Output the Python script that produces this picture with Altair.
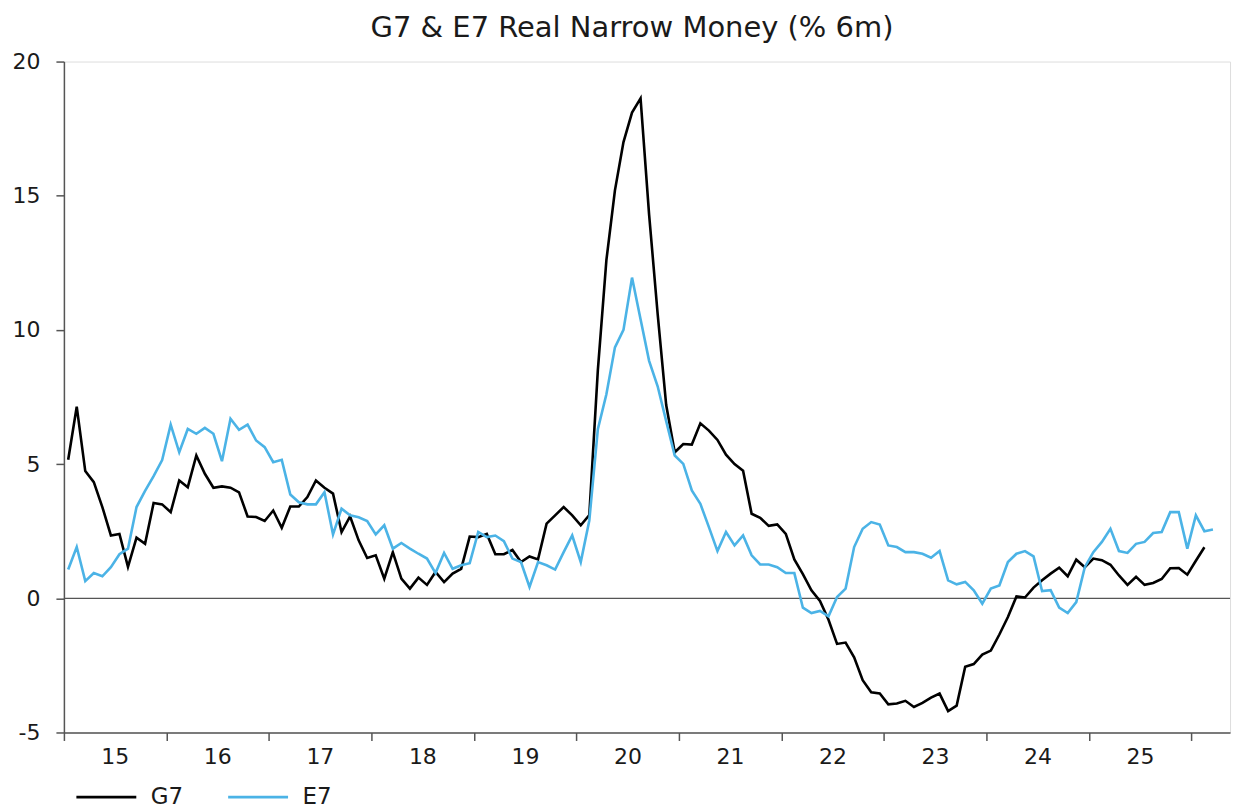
import altair as alt
import pandas as pd

START_YEAR = 2015
TITLE = "G7 & E7 Real Narrow Money (% 6m)"
series_names = ["G7", "E7"]
series_colors = ["#000000", "#4BB3E6"]
year_ticks = list(range(2015, 2027))
y_ticks = [-5, 0, 5, 10, 15, 20]

# monthly values, Jan 2015 onwards
g7 = [5.16, 7.14, 4.74, 4.33, 3.4, 2.34, 2.4, 1.17, 2.26, 2.03,
      3.55, 3.5, 3.21, 4.39, 4.14, 5.32, 4.64, 4.12, 4.17, 4.12,
      3.95, 3.05, 3.03, 2.88, 3.27, 2.63, 3.42, 3.42, 3.77, 4.39,
      4.12, 3.9, 2.47, 3.05, 2.16, 1.5, 1.6, 0.73, 1.72, 0.73,
      0.36, 0.77, 0.5, 0.98, 0.6, 0.92, 1.1, 2.3, 2.28, 2.4,
      1.64, 1.64, 1.8, 1.35, 1.56, 1.45, 2.78, 3.09, 3.4, 3.09,
      2.72, 3.1, 8.5, 12.6, 15.2, 17.0, 18.1, 18.63, 14.3, 10.6,
      7.2, 5.44, 5.75, 5.73, 6.52, 6.25, 5.9, 5.35, 5.0, 4.75,
      3.15, 3.0, 2.7, 2.75, 2.4, 1.45, 0.9, 0.3, -0.1, -0.8,
      -1.7, -1.65, -2.2, -3.05, -3.5, -3.55, -3.95, -3.92, -3.82, -4.05,
      -3.9, -3.7, -3.55, -4.2, -4.0, -2.55, -2.45, -2.1, -1.95, -1.35,
      -0.7, 0.07, 0.03, 0.4, 0.67, 0.92, 1.14, 0.82, 1.44, 1.16,
      1.48, 1.42, 1.25, 0.85, 0.5, 0.8, 0.5, 0.57, 0.72, 1.12,
      1.13, 0.88, 1.4, 1.9]

e7 = [1.07, 1.91, 0.64, 0.94, 0.82, 1.16, 1.64, 1.85, 3.4, 4.0,
      4.55, 5.15, 6.47, 5.44, 6.31, 6.13, 6.35, 6.13, 5.11, 6.69,
      6.28, 6.47, 5.88, 5.63, 5.07, 5.16, 3.87, 3.58, 3.5, 3.5,
      3.95, 2.38, 3.34, 3.09, 3.02, 2.88, 2.38, 2.72, 1.85, 2.06,
      1.85, 1.66, 1.48, 0.94, 1.69, 1.1, 1.23, 1.31, 2.47, 2.28,
      2.34, 2.13, 1.48, 1.35, 0.42, 1.35, 1.23, 1.07, 1.72, 2.34,
      1.35, 2.9, 6.3, 7.6, 9.35, 10.0, 11.95, 10.4, 8.85, 7.9,
      6.6, 5.32, 5.01, 4.02, 3.52, 2.65, 1.76, 2.47, 1.97, 2.34,
      1.6, 1.26, 1.26, 1.16, 0.94, 0.94, -0.35, -0.55, -0.47, -0.67,
      0.05, 0.36, 1.91, 2.59, 2.84, 2.75, 1.97, 1.91, 1.72, 1.72,
      1.66, 1.51, 1.76, 0.67, 0.52, 0.61, 0.3, -0.2, 0.36, 0.48,
      1.35, 1.66, 1.76, 1.56, 0.27, 0.3, -0.35, -0.55, -0.14, 1.16,
      1.72, 2.1, 2.59, 1.76, 1.69, 2.03, 2.1, 2.43, 2.47, 3.21,
      3.21, 1.85, 3.09, 2.5, 2.56]

rows = []
for name, vals in zip(series_names, [g7, e7]):
    for i, v in enumerate(vals):
        rows.append({"series": name, "t": START_YEAR + (i + 0.5) / 12, "value": v})
df = pd.DataFrame(rows)

FONT = "DejaVu Sans"
TXT = "#1a1a1a"
AX = "#555555"
W, H = 1168, 672

x_enc = alt.X(
    "t:Q",
    scale=alt.Scale(domain=[2015, 2026.375], nice=False, zero=False),
    axis=alt.Axis(
        values=year_ticks, title=None, grid=False,
        labelExpr="datum.value < 2026 ? '' + (datum.value - 2000) : ''",
        labelOffset=51, labelFlush=False, labelOverlap=False,
        tickSize=8, tickColor=AX, domainColor=AX, domainWidth=1.5, tickWidth=1.5,
        labelPadding=6, labelFontSize=22, labelFont=FONT, labelColor=TXT,
    ),
)
y_enc = alt.Y(
    "value:Q",
    scale=alt.Scale(domain=[-5, 20], nice=False, zero=False),
    axis=alt.Axis(
        values=y_ticks, title=None, grid=False,
        labelExpr="'' + datum.value",
        tickSize=8, tickColor=AX, domainColor=AX, domainWidth=1.5, tickWidth=1.5,
        labelPadding=16, labelFontSize=22, labelFont=FONT, labelColor=TXT,
    ),
)

zero = alt.Chart(pd.DataFrame({"value": [0]})).mark_rule(color=AX, strokeWidth=1.3).encode(
    y=alt.Y("value:Q")
)

lines = alt.Chart(df).mark_line(strokeWidth=2.6).encode(
    x=x_enc,
    y=y_enc,
    color=alt.Color(
        "series:N",
        scale=alt.Scale(domain=series_names, range=series_colors),
        sort=series_names,
        legend=alt.Legend(
            orient="none", legendX=11, legendY=705, direction="horizontal",
            title=None, symbolType="stroke", symbolSize=3600, symbolStrokeWidth=3,
            labelFontSize=23, labelFont=FONT, labelColor=TXT, labelOffset=13,
            columnPadding=38, padding=0,
        ),
    ),
    detail="series:N",
)

title = alt.Chart(pd.DataFrame({"label": [TITLE]})).mark_text(
    font=FONT, fontSize=29, color=TXT, align="center", baseline="alphabetic"
).encode(
    x=alt.value(W / 2 - 15),
    y=alt.value(-25),
    text="label:N",
)

chart = alt.layer(zero, lines, title).properties(
    width=W,
    height=H,
    padding={"left": 56, "top": 53, "right": 20, "bottom": 78},
    autosize=alt.AutoSizeParams(type="none"),
).configure_view(stroke=None).configure(background="white")

chart.save("out.html", embed_options={"renderer": "svg", "actions": False})
